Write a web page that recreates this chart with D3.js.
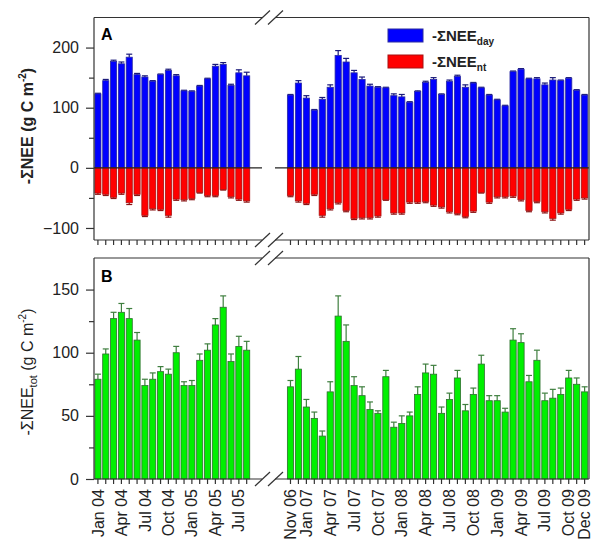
<!DOCTYPE html>
<html>
<head>
<meta charset="utf-8">
<script src="https://cdn.jsdelivr.net/npm/d3@7"></script>
<style>
  body { margin: 0; background: #fff; }
  svg { display: block; font-family: Arial, 'Liberation Sans', sans-serif; }
</style>
</head>
<body>
<svg id="chart" width="597" height="545"></svg>
<script>
// months on each side of the axis break
const monthsLeft = ['Jan 04','Feb 04','Mar 04','Apr 04','May 04','Jun 04','Jul 04','Aug 04','Sep 04','Oct 04',
  'Nov 04','Dec 04','Jan 05','Feb 05','Mar 05','Apr 05','May 05','Jun 05','Jul 05','Aug 05'];
const monthsRight = ['Nov 06','Dec 06','Jan 07','Feb 07','Mar 07','Apr 07','May 07','Jun 07','Jul 07','Aug 07',
  'Sep 07','Oct 07','Nov 07','Dec 07','Jan 08','Feb 08','Mar 08','Apr 08','May 08','Jun 08',
  'Jul 08','Aug 08','Sep 08','Oct 08','Nov 08','Dec 08','Jan 09','Feb 09','Mar 09','Apr 09',
  'May 09','Jun 09','Jul 09','Aug 09','Sep 09','Oct 09','Nov 09','Dec 09'];

const labelsLeft = ['Jan 04','Apr 04','Jul 04','Oct 04','Jan 05','Apr 05','Jul 05'];
const labelsRight = ['Nov 06','Jan 07','Apr 07','Jul 07','Oct 07','Jan 08','Apr 08','Jul 08',
  'Oct 08','Jan 09','Apr 09','Jul 09','Oct 09','Dec 09'];

// panel A: daytime (positive) and night-time (negative) sums
const dayLeft = [123,145,177,173,184,155,151,144,155,162,153,128,127,136,148,169,172,137,158,153];
const dayLeftErr = [1,2,2,3,5,2,2,1,1,2,2,1,1,1,1,3,3,2,5,6];
const ntLeft = [-42,-44,-49,-42,-58,-44,-79,-68,-69,-79,-52,-53,-51,-41,-46,-46,-36,-48,-52,-55];
const ntLeftErr = [2,2,2,2,3,2,2,2,2,3,2,2,2,1,2,2,1,2,2,2];

const dayRight = [121,141,116,96,114,134,187,176,158,147,136,134,133,120,118,109,127,142,147,122,
  144,152,134,141,133,121,113,103,160,164,148,148,138,146,145,149,129,121];
const dayRightErr = [1,4,4,1,3,4,8,6,4,4,3,1,1,3,4,1,1,2,3,1,2,2,4,1,1,1,1,1,1,1,1,2,3,4,1,1,1,1];
const ntRight = [-46,-55,-59,-44,-79,-68,-58,-71,-84,-83,-83,-80,-53,-75,-75,-57,-57,-56,-62,-65,
  -73,-76,-81,-72,-41,-57,-48,-48,-47,-53,-71,-56,-73,-84,-75,-69,-52,-50];
const ntRightErr = [2,2,2,2,3,2,2,2,2,2,2,2,1,2,2,2,2,2,2,2,2,2,2,2,1,2,2,2,2,2,2,2,2,3,2,2,2,2];

// panel B: total
const totLeft = [79,99,127,132,127,110,74,79,85,83,100,74,74,94,102,122,136,93,105,102];
const totLeftErr = [4,4,5,7,8,6,5,5,4,4,5,3,4,5,5,5,9,6,8,7];
const totRight = [73,87,57,48,34,69,129,109,74,66,55,52,81,41,44,50,67,84,83,52,
  63,80,54,67,91,62,62,53,110,108,77,94,62,64,67,80,75,69];
const totRightErr = [5,10,6,5,4,8,16,13,7,7,6,2,5,4,6,3,6,7,7,5,5,6,5,5,7,4,4,3,9,7,5,8,6,7,5,6,5,4];

const svg = d3.select('#chart');

const x0 = 94, gapL = 262, gapR = 275, x1 = 589;
const frameA = { top: 17.5, bottom: 240 };
const frameB = { top: 258, bottom: 479 };

const xL = d3.scaleBand().domain(monthsLeft).range([94, 250.6]).paddingInner(0.22).paddingOuter(0.11);
const xR = d3.scaleBand().domain(monthsRight).range([286.5, 588.6]).paddingInner(0.22).paddingOuter(0.11);

const yA = d3.scaleLinear().domain([-120, 250]).range([frameA.bottom, frameA.top]);
const yB = d3.scaleLinear().domain([0, 175]).range([frameB.bottom, frameB.top]);

const drawBars = (x, y, months, values, errs, fill, stroke, errColor) => {
  const data = months.map((m, i) => ({ m, v: values[i], e: errs[i] }));
  const g = svg.append('g');
  const w = x.bandwidth();

  // error bars first so the bar covers the base of the whisker
  const eb = g.selectAll('g.err').data(data).enter().append('g')
    .attr('stroke', errColor).attr('stroke-width', 1.2);
  const tip = (d) => y(d.v + Math.sign(d.v) * d.e);
  eb.append('line')
    .attr('x1', (d) => x(d.m) + w / 2).attr('x2', (d) => x(d.m) + w / 2)
    .attr('y1', (d) => y(d.v)).attr('y2', tip);
  eb.append('line')
    .attr('x1', (d) => x(d.m) + w / 2 - 3).attr('x2', (d) => x(d.m) + w / 2 + 3)
    .attr('y1', tip).attr('y2', tip);

  g.selectAll('rect').data(data).enter().append('rect')
    .attr('x', (d) => x(d.m))
    .attr('width', w)
    .attr('y', (d) => Math.min(y(d.v), y(0)))
    .attr('height', (d) => Math.abs(y(d.v) - y(0)))
    .attr('fill', fill)
    .attr('stroke', stroke)
    .attr('stroke-width', 0.8);
};

drawBars(xL, yA, monthsLeft, dayLeft, dayLeftErr, '#0000ff', '#2a2aa0', '#1a1a7a');
drawBars(xR, yA, monthsRight, dayRight, dayRightErr, '#0000ff', '#2a2aa0', '#1a1a7a');
drawBars(xL, yA, monthsLeft, ntLeft, ntLeftErr, '#ff0000', '#a81010', '#8a1515');
drawBars(xR, yA, monthsRight, ntRight, ntRightErr, '#ff0000', '#a81010', '#8a1515');
drawBars(xL, yB, monthsLeft, totLeft, totLeftErr, '#00f000', '#2d6e2d', '#3f7f3f');
drawBars(xR, yB, monthsRight, totRight, totRightErr, '#00f000', '#2d6e2d', '#3f7f3f');

// zero line in panel A, broken like the frame
[[x0, gapL], [gapR, x1]].forEach(([a, b]) => {
  svg.append('line').attr('x1', a).attr('x2', b)
    .attr('y1', yA(0)).attr('y2', yA(0))
    .attr('stroke', '#222').attr('stroke-width', 1.2);
});

// frames with the axis break
const frame = (f) => {
  const g = svg.append('g').attr('stroke', '#333').attr('stroke-width', 1.2).attr('fill', 'none');
  [f.top, f.bottom].forEach((yy) => {
    g.append('line').attr('x1', x0).attr('x2', gapL).attr('y1', yy).attr('y2', yy);
    g.append('line').attr('x1', gapR).attr('x2', x1).attr('y1', yy).attr('y2', yy);
    [gapL + 0.5, gapR + 0.5].forEach((cx) => {
      g.append('line').attr('x1', cx - 7.5).attr('x2', cx + 7.5)
        .attr('y1', yy + 7).attr('y2', yy - 7);
    });
  });
  g.append('line').attr('x1', x0).attr('x2', x0).attr('y1', f.top).attr('y2', f.bottom);
  g.append('line').attr('x1', x1).attr('x2', x1).attr('y1', f.top).attr('y2', f.bottom);
};
frame(frameA);
frame(frameB);

// y axes: labelled major ticks plus unlabelled minor ones
const yAxis = (y, major, minor) => {
  const g = svg.append('g').attr('transform', `translate(${x0},0)`);
  g.append('g').call(d3.axisLeft(y).tickValues(major).tickSize(8).tickPadding(7));
  g.append('g').call(d3.axisLeft(y).tickValues(minor).tickSize(5).tickFormat(''));
  g.selectAll('.domain').remove();
  g.selectAll('line').attr('stroke', '#333').attr('stroke-width', 1.2);
  g.selectAll('text').attr('font-size', 16).attr('fill', '#222');
};
yAxis(yA, [-100, 0, 100, 200], [-50, 50, 150]);
yAxis(yB, [0, 50, 100, 150], [25, 75, 125]);

// x ticks at every month, labels only on panel B
const xAxis = (x, yy, labels) => {
  const g = svg.append('g').attr('transform', `translate(0,${yy})`)
    .call(d3.axisBottom(x).tickSize(5).tickFormat((d) => labels.includes(d) ? d : ''));
  g.select('.domain').remove();
  g.selectAll('line').attr('stroke', '#333').attr('stroke-width', 1.2);
  g.selectAll('text')
    .attr('font-size', 16).attr('fill', '#222')
    .attr('text-anchor', 'end')
    .attr('transform', 'rotate(-90)')
    .attr('x', -10).attr('y', 0).attr('dy', '0.35em');
};
xAxis(xL, frameA.bottom, []);
xAxis(xR, frameA.bottom, []);
xAxis(xL, frameB.bottom, labelsLeft);
xAxis(xR, frameB.bottom, labelsRight);

// panel letters
svg.append('text').attr('x', 101).attr('y', frameA.top + 22.5)
  .attr('font-size', 16).attr('font-weight', 'bold').text('A');
svg.append('text').attr('x', 101).attr('y', frameB.top + 24)
  .attr('font-size', 16).attr('font-weight', 'bold').text('B');

// y axis titles
const titleA = svg.append('text')
  .attr('transform', 'translate(33,126) rotate(-90)')
  .attr('text-anchor', 'middle').attr('font-size', 16).attr('font-weight', 'bold').attr('fill', '#222');
titleA.append('tspan').text('-ΣNEE (g C m');
titleA.append('tspan').attr('font-size', 10).attr('dy', -7).text('-2');
titleA.append('tspan').attr('dy', 7).text(')');

const titleB = svg.append('text')
  .attr('transform', 'translate(33,372) rotate(-90)')
  .attr('text-anchor', 'middle').attr('font-size', 16).attr('fill', '#222');
titleB.append('tspan').text('-ΣNEE');
titleB.append('tspan').attr('font-size', 11).attr('dy', 4).text('tot');
titleB.append('tspan').attr('dy', -4).text(' (g C m');
titleB.append('tspan').attr('font-size', 10).attr('dy', -7).text('-2');
titleB.append('tspan').attr('dy', 7).text(')');

// legend
const legend = [
  { label: 'day', fill: '#0000ff', stroke: '#2a2aa0', y: 29 },
  { label: 'nt', fill: '#ff0000', stroke: '#a81010', y: 55 }
];
const lg = svg.append('g').selectAll('g').data(legend).enter().append('g');
lg.append('rect')
  .attr('x', 388).attr('y', (d) => d.y).attr('width', 35).attr('height', 13)
  .attr('fill', (d) => d.fill).attr('stroke', (d) => d.stroke);
const lt = lg.append('text')
  .attr('x', 432).attr('y', (d) => d.y + 12)
  .attr('font-size', 15).attr('font-weight', 'bold').attr('fill', '#222');
lt.append('tspan').text('-ΣNEE');
lt.append('tspan').attr('font-size', 10).attr('dy', 4).text((d) => d.label);
</script>
</body>
</html>
